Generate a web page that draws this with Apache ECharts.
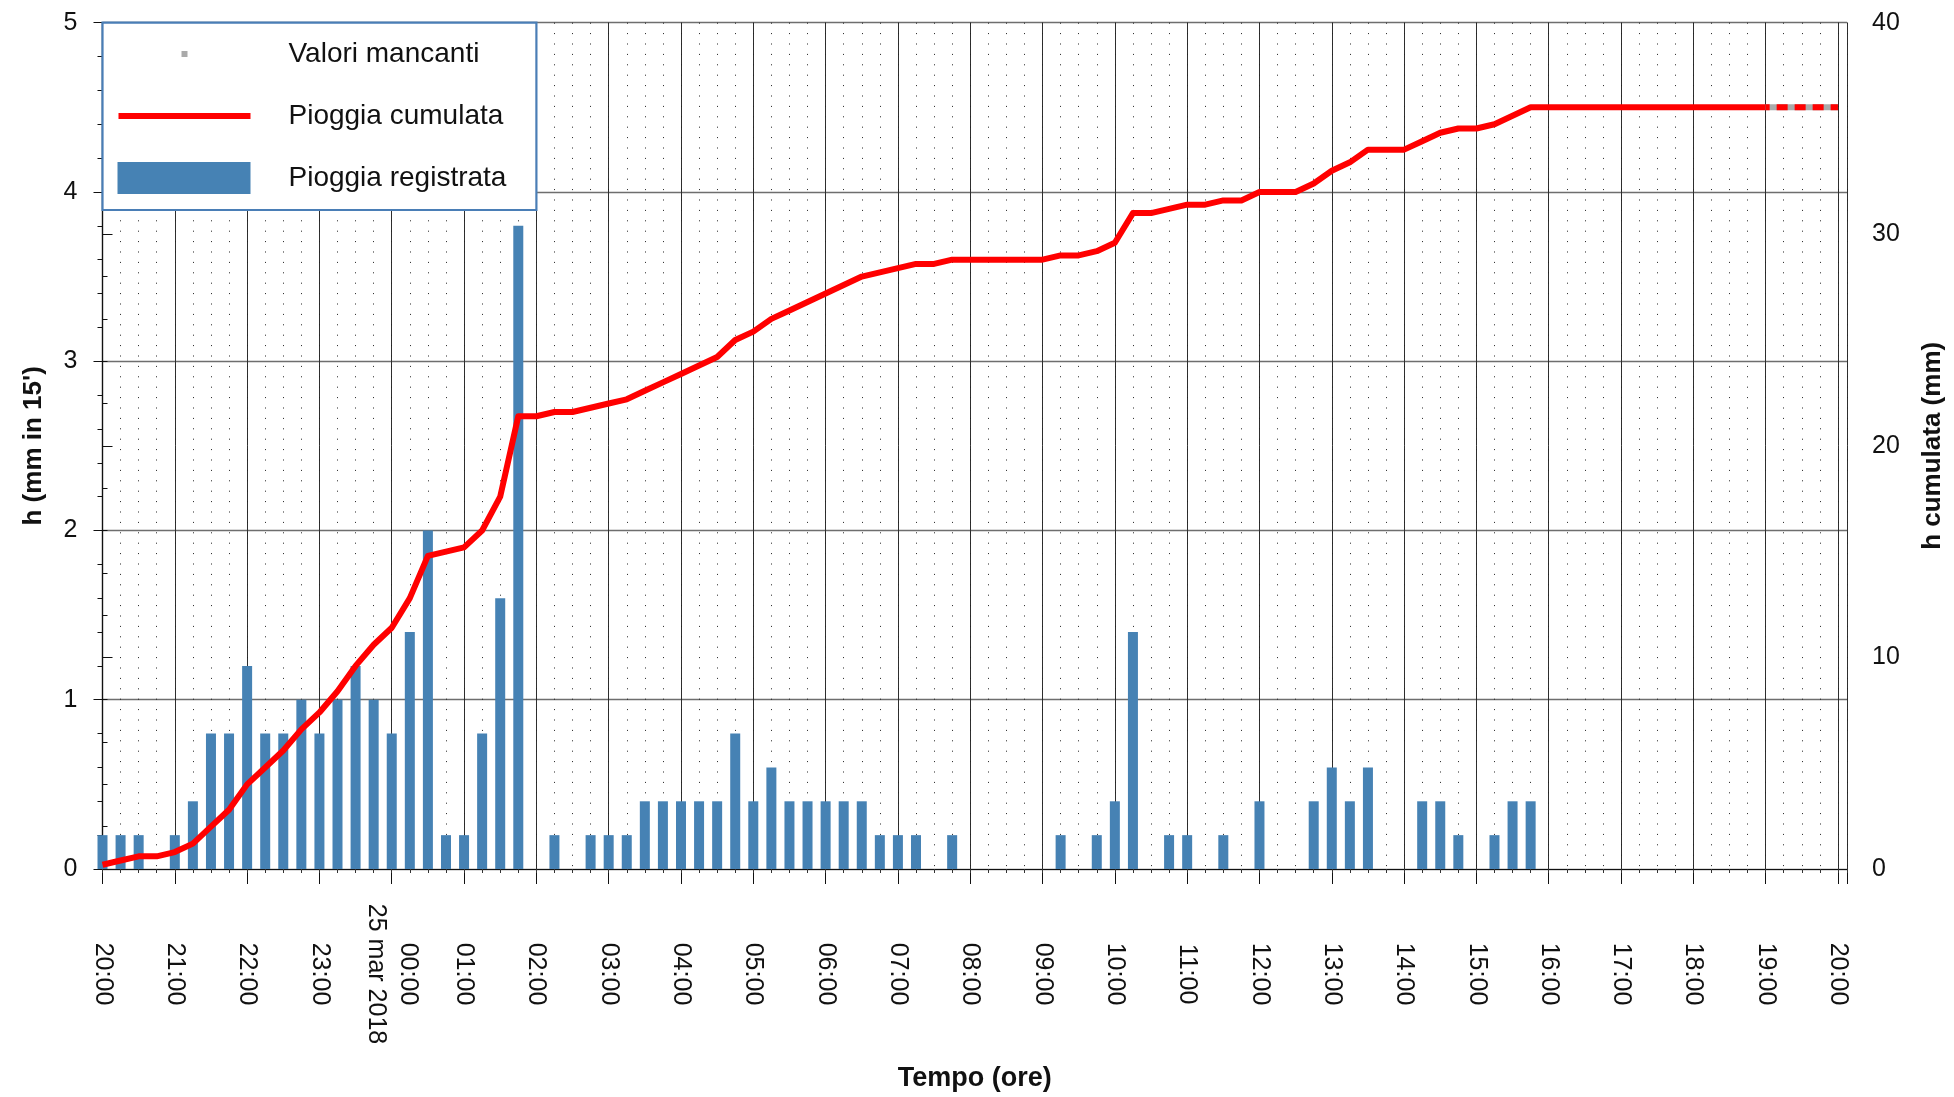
<!DOCTYPE html>
<html>
<head>
<meta charset="utf-8">
<title>Pioggia 24-25 marzo 2018</title>
<script src="https://cdn.jsdelivr.net/npm/echarts@6/dist/echarts.min.js"></script>
<style>
  html, body { margin: 0; padding: 0; background: #ffffff; }
  #grafico { width: 1954px; height: 1097px; }
</style>
</head>
<body>
<div id="grafico"></div>
<script>
// Etichette orarie dell'asse dei tempi (una per ora, dalle 20:00 alle 20:00)
const etichetteOre = ['20:00', '21:00', '22:00', '23:00', '00:00', '01:00', '02:00', '03:00',
  '04:00', '05:00', '06:00', '07:00', '08:00', '09:00', '10:00', '11:00', '12:00', '13:00',
  '14:00', '15:00', '16:00', '17:00', '18:00', '19:00', '20:00'];
// Cambio di data, mostrato sotto l'ora 00:00
const etichettaData = '25 mar 2018';
const oraCambioData = 4;

// Pioggia registrata in 15' (mm), un valore per quarto d'ora dalle 20:00 alle 19:00
const pioggiaRegistrata = [
  0.2, 0.2, 0.2, 0,      // 20
  0.2, 0.4, 0.8, 0.8,    // 21
  1.2, 0.8, 0.8, 1.0,    // 22
  0.8, 1.0, 1.2, 1.0,    // 23
  0.8, 1.4, 2.0, 0.2,    // 00
  0.2, 0.8, 1.6, 3.8,    // 01
  0, 0.2, 0, 0.2,        // 02
  0.2, 0.2, 0.4, 0.4,    // 03
  0.4, 0.4, 0.4, 0.8,    // 04
  0.4, 0.6, 0.4, 0.4,    // 05
  0.4, 0.4, 0.4, 0.2,    // 06
  0.2, 0.2, 0, 0.2,      // 07
  0, 0, 0, 0,            // 08
  0, 0.2, 0, 0.2,        // 09
  0.4, 1.4, 0, 0.2,      // 10
  0.2, 0, 0.2, 0,        // 11
  0.4, 0, 0, 0.4,        // 12
  0.6, 0.4, 0.6, 0,      // 13
  0, 0.4, 0.4, 0.2,      // 14
  0, 0.2, 0.4, 0.4,      // 15
  0, 0, 0, 0,            // 16
  0, 0, 0, 0,            // 17
  0, 0, 0, 0,            // 18
  0                      // 19:00
];

// Pioggia cumulata (mm), stessi istanti
const pioggiaCumulata = [
  0.2, 0.4, 0.6, 0.6,
  0.8, 1.2, 2.0, 2.8,
  4.0, 4.8, 5.6, 6.6,
  7.4, 8.4, 9.6, 10.6,
  11.4, 12.8, 14.8, 15.0,
  15.2, 16.0, 17.6, 21.4,
  21.4, 21.6, 21.6, 21.8,
  22.0, 22.2, 22.6, 23.0,
  23.4, 23.8, 24.2, 25.0,
  25.4, 26.0, 26.4, 26.8,
  27.2, 27.6, 28.0, 28.2,
  28.4, 28.6, 28.6, 28.8,
  28.8, 28.8, 28.8, 28.8,
  28.8, 29.0, 29.0, 29.2,
  29.6, 31.0, 31.0, 31.2,
  31.4, 31.4, 31.6, 31.6,
  32.0, 32.0, 32.0, 32.4,
  33.0, 33.4, 34.0, 34.0,
  34.0, 34.4, 34.8, 35.0,
  35.0, 35.2, 35.6, 36.0,
  36.0, 36.0, 36.0, 36.0,
  36.0, 36.0, 36.0, 36.0,
  36.0, 36.0, 36.0, 36.0,
  36.0
];

// Ultima ora senza dati (19:00-20:00): cumulata mantenuta
const inizioMancanti = 92;
const valoriMancanti = [36.0, 36.0, 36.0, 36.0, 36.0];

const fontBase = "'Liberation Sans', Arial, sans-serif";
const nero = '#111111';
const coloreBarre = '#4682b4';
const coloreCumulata = '#ff0000';
const coloreMancanti = '#aaaaaa';

// Icone della legenda: riquadro 166x32 con il segno disegnato a sinistra
const iconaMancanti = 'path://M0,0M166,32M64,13h6v6h-6z';
const iconaCumulata = 'path://M0,0M166,32M1,13h132v6h-132z';
const iconaRegistrata = 'path://M0,0M166,32M0,0h133v32h-133z';

const chart = echarts.init(document.getElementById('grafico'), null, { renderer: 'canvas' });

const option = {
  animation: false,
  backgroundColor: '#ffffff',
  textStyle: { fontFamily: fontBase },
  grid: { left: 102.5, right: 107, top: 22.7, bottom: 228, containLabel: false, outerBoundsMode: 'none' },
  legend: {
    orient: 'vertical',
    left: 102.5,
    top: 22.7,
    padding: [15.3, 30, 16, 15],
    itemWidth: 166,
    itemHeight: 32,
    itemGap: 30,
    backgroundColor: '#ffffff',
    borderColor: '#4a7eb6',
    borderWidth: 2.2,
    selectedMode: false,
    textStyle: { fontSize: 28, color: nero, fontFamily: fontBase },
    data: [
      { name: 'Valori mancanti', icon: iconaMancanti, itemStyle: { borderWidth: 0 } },
      { name: 'Pioggia cumulata', icon: iconaCumulata, itemStyle: { borderWidth: 0 } },
      { name: 'Pioggia registrata', icon: iconaRegistrata, itemStyle: { borderWidth: 0 } }
    ]
  },
  xAxis: [
    {
      type: 'value',
      position: 'bottom',
      min: 0,
      max: 96.5,
      interval: 4,
      name: 'Tempo (ore)',
      nameLocation: 'middle',
      nameGap: 196,
      nameTextStyle: { fontSize: 27, fontWeight: 'bold', color: nero, fontFamily: fontBase },
      axisLine: { show: true, onZero: false, lineStyle: { color: nero, width: 1.2 } },
      axisTick: { show: true, length: 15, lineStyle: { color: nero, width: 1 } },
      axisLabel: {
        rotate: -90,
        align: 'center',
        verticalAlign: 'middle',
        margin: 105,
        fontSize: 25,
        lineHeight: 32,
        color: nero,
        fontFamily: fontBase,
        formatter: function (v) {
          if (v % 4 !== 0) return '';
          const k = v / 4;
          if (k >= etichetteOre.length) return '';
          return k === oraCambioData ? etichetteOre[k] + '\n' + etichettaData : etichetteOre[k];
        }
      },
      splitLine: { show: true, lineStyle: { color: '#2e2e2e', width: 1 } }
    },
    {
      // quarti d'ora: tacche minori e griglia punteggiata
      type: 'value',
      position: 'bottom',
      min: 0,
      max: 96.5,
      interval: 1,
      axisLine: { show: false },
      axisLabel: { show: false },
      axisTick: { show: true, length: 4, lineStyle: { color: '#333333', width: 1 } },
      splitLine: { show: true, lineStyle: { color: '#222222', width: 1, type: [1, 9.4] } }
    }
  ],
  yAxis: [
    {
      type: 'value',
      position: 'left',
      min: 0,
      max: 5,
      interval: 1,
      name: "h (mm in 15')",
      nameLocation: 'middle',
      nameGap: 56,
      nameTextStyle: { fontSize: 26, fontWeight: 'bold', color: nero, fontFamily: fontBase },
      axisLine: { show: true, lineStyle: { color: nero, width: 1.2 } },
      axisTick: { show: true, length: 9, lineStyle: { color: nero } },
      minorTick: { show: true, splitNumber: 5, length: 5, lineStyle: { color: nero } },
      axisLabel: { fontSize: 25, margin: 25, color: nero, fontFamily: fontBase },
      splitLine: { show: true, lineStyle: { color: '#6e6e6e', width: 1.3 } }
    },
    {
      type: 'value',
      position: 'right',
      min: 0,
      max: 40,
      interval: 10,
      name: 'h cumulata (mm)',
      nameLocation: 'middle',
      nameGap: 73,
      nameTextStyle: { fontSize: 26, fontWeight: 'bold', color: nero, fontFamily: fontBase },
      axisLine: { show: true, lineStyle: { color: nero, width: 1.2 } },
      axisTick: { show: true, length: 10, lineStyle: { color: nero } },
      minorTick: { show: true, splitNumber: 5, length: 5, lineStyle: { color: nero } },
      axisLabel: { fontSize: 25, margin: 25, color: nero, fontFamily: fontBase },
      splitLine: { show: false }
    }
  ],
  series: [
    {
      name: 'Pioggia registrata',
      type: 'bar',
      xAxisIndex: 0,
      yAxisIndex: 0,
      barWidth: 10,
      clip: true,
      itemStyle: { color: coloreBarre },
      data: pioggiaRegistrata.map((v, i) => [i, v]),
      z: 2
    },
    {
      name: 'Pioggia cumulata',
      type: 'line',
      xAxisIndex: 0,
      yAxisIndex: 1,
      symbol: 'none',
      lineStyle: { color: coloreCumulata, width: 6, join: 'round' },
      itemStyle: { color: coloreCumulata },
      data: pioggiaCumulata.map((v, i) => [i, v]),
      z: 3
    },
    {
      name: 'Valori mancanti',
      type: 'line',
      xAxisIndex: 0,
      yAxisIndex: 1,
      symbol: 'none',
      lineStyle: { color: coloreMancanti, width: 6 },
      itemStyle: { color: coloreMancanti },
      data: valoriMancanti.map((v, k) => [inizioMancanti + k, v]),
      z: 3
    },
    {
      name: 'Pioggia cumulata',
      type: 'line',
      xAxisIndex: 0,
      yAxisIndex: 1,
      symbol: 'none',
      lineStyle: { color: coloreCumulata, width: 6, type: [11, 7], dashOffset: 7 },
      itemStyle: { color: coloreCumulata },
      data: valoriMancanti.map((v, k) => [inizioMancanti + k, v]),
      z: 4
    }
  ]
};

chart.setOption(option);
</script>
</body>
</html>
